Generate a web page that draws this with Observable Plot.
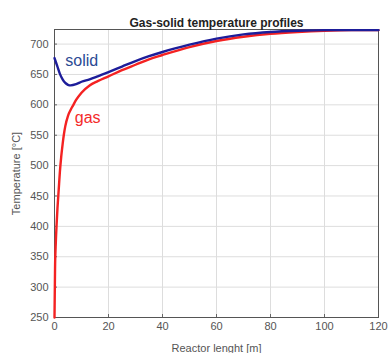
<!DOCTYPE html>
<html><head><meta charset="utf-8">
<script src="https://cdn.jsdelivr.net/npm/d3@7"></script>
<script src="https://cdn.jsdelivr.net/npm/@observablehq/plot@0.6"></script>
<style>
html,body{margin:0;padding:0;background:#fff;}
svg{font-family:"Liberation Sans",Arial,sans-serif;}
</style>
</head><body><div id="chart"></div>
<script>
const title = "Gas-solid temperature profiles";
const xLabel = "Reactor lenght [m]";
const yLabel = "Temperature [°C]";
const xTicks = [0, 20, 40, 60, 80, 100, 120];
const yTicks = [250, 300, 350, 400, 450, 500, 550, 600, 650, 700];

const solidX = [0,1,2,3,4,5,6,8,10,13,16,20,25,30,35,40,50,60,70,80,90,100,110,120];
const solidT = [677,664,651,642,636,633,632,634,638,642,647,654,663,672,680,687,699,709,716,720,722,723,723,723];

const gasX = [0,0.2,0.5,0.8,1.1,1.4,1.7,2,2.5,3,3.5,4,5,6,7,8,10,13,16,20,25,30,35,40,50,60,70,80,90,100,110,120];
const gasT = [250,330,375,405,430,450,470,490,515,535,552,565,582,592,600,608,620,632,639,647,657,666,675,682,695,705,712,717,720,722,723,723];

const labelNames = ["solid", "gas"];
const labelX = [4, 7.5];
const labelT = [672, 578];
const labelColors = ["#2b4a94", "#f42a2a"];

const solid = solidX.map((x, i) => ({x, t: solidT[i]}));
const gas = gasX.map((x, i) => ({x, t: gasT[i]}));
const labels = labelNames.map((n, i) => ({n, x: labelX[i], t: labelT[i], c: labelColors[i]}));

const chart = Plot.plot({
  width: 388,
  height: 353,
  marginLeft: 54,
  marginRight: 10,
  marginTop: 29,
  marginBottom: 36,
  style: {fontSize: "11px", color: "#555", background: "#fff"},
  x: {domain: [0, 120], ticks: xTicks},
  y: {domain: [250, 724], ticks: yTicks},
  marks: [
    Plot.gridX(xTicks, {stroke: "#ddd", strokeOpacity: 1}),
    Plot.gridY(yTicks, {stroke: "#ddd", strokeOpacity: 1}),
    Plot.axisX(xTicks, {anchor: "bottom", tickSize: -3, tickPadding: 8, stroke: "#666", fill: "#555",
      label: xLabel, labelAnchor: "center", labelArrow: "none", labelOffset: 34}),
    Plot.axisY(yTicks, {anchor: "left", tickSize: -3, tickPadding: 9, stroke: "#666", fill: "#555",
      label: yLabel, labelAnchor: "center", labelArrow: "none", labelOffset: 42}),
    Plot.frame({stroke: "#555"}),
    Plot.line(gas, {x: "x", y: "t", stroke: "#f42222", strokeWidth: 2.4, curve: "monotone-x"}),
    Plot.line(solid, {x: "x", y: "t", stroke: "#1d1d9a", strokeWidth: 2.4, curve: "monotone-x"}),
    Plot.text(labels, {x: "x", y: "t", text: "n", fill: "c", fontSize: 16, textAnchor: "start"}),
    Plot.text([title], {frameAnchor: "top", dy: -11, fontSize: 12, fontWeight: "bold", fill: "#222"})
  ]
});
document.getElementById("chart").appendChild(chart);
</script>
</body></html>
